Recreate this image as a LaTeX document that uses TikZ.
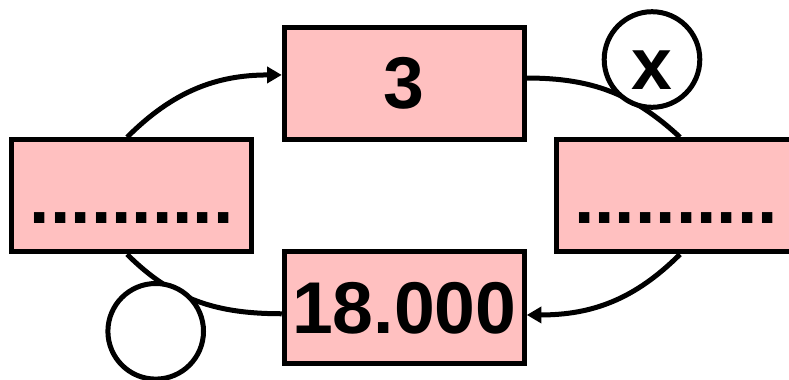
\documentclass[tikz,border=0pt]{standalone}
\usepackage{fontspec}
\setmainfont{Liberation Sans}
\usetikzlibrary{arrows.meta}
\definecolor{boxpink}{RGB}{255,192,192}
\tikzset{
  pbox/.style={draw=black, fill=boxpink, line width=3.75pt, minimum width=180pt, minimum height=84pt, inner sep=0pt,
    font=\fontsize{55}{66}\selectfont\bfseries},
  dotbox/.style={pbox, text height=40.9pt, text depth=0pt},
  ring/.style={draw=black, fill=white, line width=3.75pt, circle, minimum size=71.7pt, inner sep=0pt,
    font=\fontsize{55}{66}\selectfont\bfseries},
  conn/.style={line width=3.75pt},
  arr/.style={conn, -{Triangle[length=11pt,width=12pt]}}
}
\begin{document}
\begin{tikzpicture}[x=0.75pt,y=-0.75pt]
\useasboundingbox (0,0) rectangle (789,379);
\node[pbox] (T) at (404.25,83.75) {3};
\node[dotbox] (L) at (131.75,195.75) {..........};
\node[dotbox] (R) at (676,195.75) {..........};
\node[pbox] (B) at (404.25,307.75) {18.000};
\draw[arr] ([xshift=-3.5pt]L.north) to[out=45,in=180] ([yshift=6.6pt]T.west);
\draw[conn] ([yshift=4.3pt]T.east) to[out=0,in=137] ([xshift=3pt]R.north);
\draw[arr] ([xshift=3pt]R.south) to[out=-135,in=0] ([yshift=-5.4pt]B.west -| B.east);
\draw[conn] ([xshift=-3.5pt]L.south) to[out=-45,in=180] ([yshift=-4.5pt]B.west);
\node[ring, text height=44.25pt, text depth=0pt] (X) at (652,59.5) {x};
\node[ring] (E) at (155.7,331.3) {};
\end{tikzpicture}
\end{document}
